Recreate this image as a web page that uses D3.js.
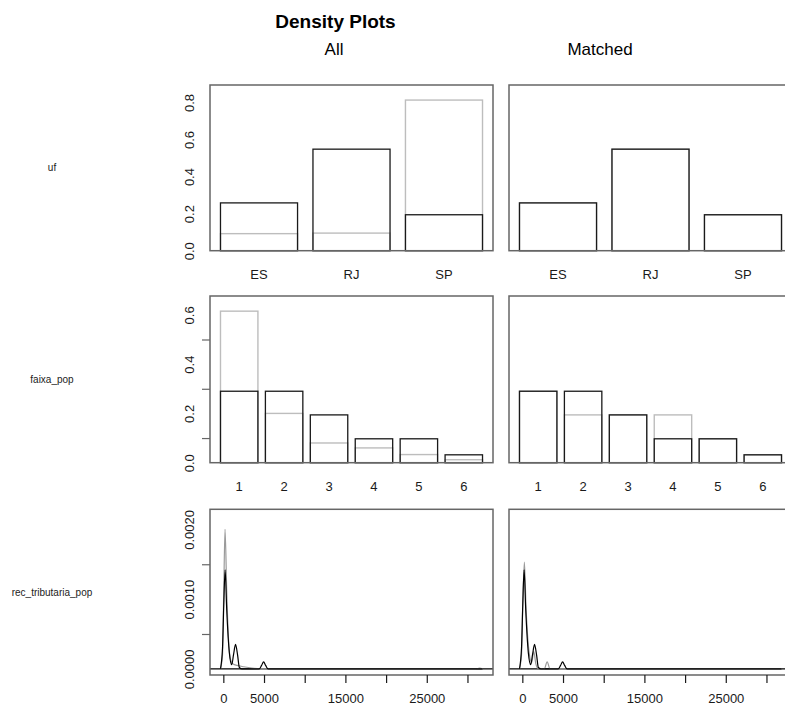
<!DOCTYPE html>
<html><head><meta charset="utf-8">
<script src="https://cdn.jsdelivr.net/npm/d3@7"></script>
<style>body{margin:0;background:#fff}svg text{font-family:"Liberation Sans",Arial,sans-serif;}</style>
</head><body><svg id="c" width="785" height="711"></svg>
<script>
// ---------- data ----------
const mainTitle = "Density Plots";
const columnTitles = ["All", "Matched"];
const rowLabels = ["uf", "faixa_pop", "rec_tributaria_pop"];

const ufCategories = ["ES", "RJ", "SP"];
const ufAllTreated = [0.258, 0.548, 0.194];
const ufAllControl = [0.092, 0.095, 0.813];
const ufMatchedTreated = [0.258, 0.548, 0.194];
const ufMatchedControl = [0.258, 0.548, 0.194];
const ufYTicks = [0, 0.2, 0.4, 0.6, 0.8];
const ufYTickLabels = [0, 0.2, 0.4, 0.6, 0.8];

const faixaCategories = ["1", "2", "3", "4", "5", "6"];
const faixaAllTreated = [0.290, 0.290, 0.194, 0.097, 0.097, 0.032];
const faixaAllControl = [0.615, 0.200, 0.080, 0.060, 0.033, 0.012];
const faixaMatchedTreated = [0.290, 0.290, 0.194, 0.097, 0.097, 0.032];
const faixaMatchedControl = [0.290, 0.194, 0.194, 0.194, 0.097, 0.032];
const faixaYTicks = [0, 0.1, 0.2, 0.3, 0.4, 0.5, 0.6];
const faixaYTickLabels = [0, 0.2, 0.4, 0.6];

// density curves (x in rec_tributaria_pop units, y density)
const recTreatedX = [-350, -100, 50, 220, 420, 740, 1030, 1250, 1500, 1750, 1970, 2300, 4400, 4700, 4950, 5200, 5500, 6000, 31850];
const recTreatedY = [0, 0.0003, 0.0009, 0.00142, 0.00084, 0.00023, 0.00006, 0.0002, 0.00035, 0.0002, 0.00002, 0, 0, 0.00005, 0.0001, 0.00005, 0, 0, 0];
const recAllControlX = [-350, -100, 50, 210, 420, 620, 900, 1200, 1700, 2500, 3500, 4500, 31000, 31500, 31850];
const recAllControlY = [0, 0.0002, 0.0011, 0.002, 0.0011, 0.00046, 0.00013, 0.00007, 0.00005, 0.00003, 0.00001, 0, 0, 0.00001, 0];
const recMatchedControlX = [-350, -100, 50, 250, 450, 800, 1150, 1400, 1650, 1900, 2700, 3050, 3400, 31850];
const recMatchedControlY = [0, 0.0002, 0.0009, 0.00153, 0.0009, 0.00027, 0.00009, 0.00025, 0.00008, 0.00001, 0, 0.0001, 0, 0];
const recXTicks = [0, 5000, 10000, 15000, 20000, 25000, 30000];
const recXTickLabels = [0, 5000, 15000, 25000];
const recYTicks = [0, 0.0005, 0.001, 0.0015, 0.002];
const recYTickLabels = [0, 0.001, 0.002];

// ---------- layout ----------
const svg = d3.select("#c");
const colX = [210, 509];
const panelW = 283;
const rows = [[85, 250.7], [296, 462.7], [509.3, 675]];
const boxColor = "#666";
const darkLine = "#1a1a1a";
const greyLine = "#bdbdbd";
const textColor = "#1a1a1a";

svg.append("text").attr("x", 335.5).attr("y", 28).attr("text-anchor", "middle")
  .style("font-size", "19px").style("font-weight", "bold").attr("fill", "#000").text(mainTitle);
const colTitleX = [334, 600];
columnTitles.forEach((t, i) => svg.append("text").attr("x", colTitleX[i]).attr("y", 55)
  .attr("text-anchor", "middle").style("font-size", "17px").attr("fill", "#000").text(t));
rowLabels.forEach((t, i) => svg.append("text").attr("x", 52).attr("y", (rows[i][0] + rows[i][1]) / 2 + 3.5)
  .attr("text-anchor", "middle").style("font-size", "10px").attr("fill", "#222").text(t));

const isLabelled = (labels, d) => labels.some(l => Math.abs(l - d) < 1e-12);

function yAxis(g, y, ticks, labels, fmt) {
  const ax = g.append("g").call(d3.axisLeft(y).tickValues(ticks).tickSize(8)
    .tickFormat(d => isLabelled(labels, d) ? fmt(d) : ""));
  ax.select(".domain").remove();
  ax.selectAll(".tick line").attr("stroke", boxColor).attr("stroke-width", 1.2)
    .attr("display", d => isLabelled(labels, d) ? "none" : null);
  ax.selectAll(".tick text").attr("x", 0).attr("y", 0).attr("dy", "0.35em")
    .attr("text-anchor", "middle").attr("transform", "translate(-21,0) rotate(-90)")
    .style("font-size", "13px").attr("fill", textColor);
}

function box(g, h) {
  g.append("rect").attr("x", 0).attr("y", 0).attr("width", panelW).attr("height", h)
    .attr("fill", "none").attr("stroke", boxColor).attr("stroke-width", 1.5);
}

function barPanel(col, row, cats, treated, control, yMax, ticks, labels) {
  const [y0, y1] = rows[row];
  const g = svg.append("g").attr("transform", `translate(${colX[col]},${y0})`);
  const h = y1 - y0;
  const n = cats.length;
  const lo = 0.2, hi = n * 1.2, ext = (hi - lo) * 0.04;
  const x = d3.scaleLinear().domain([lo - ext, hi + ext]).range([0, panelW]);
  const y = d3.scaleLinear().domain([0, yMax]).range([h, 0]);
  const drawBars = (vals, color, w) => g.append("g").selectAll("rect").data(vals).join("rect")
    .attr("x", (d, i) => x(0.2 + i * 1.2)).attr("width", (d, i) => x(1.2 + i * 1.2) - x(0.2 + i * 1.2))
    .attr("y", d => y(d)).attr("height", d => h - y(d))
    .attr("fill", "none").attr("stroke", color).attr("stroke-width", w);
  drawBars(control, greyLine, 1.4);
  drawBars(treated, darkLine, 1.3);
  box(g, h);
  g.append("g").selectAll("text").data(cats).join("text")
    .attr("x", (d, i) => x(0.7 + i * 1.2)).attr("y", h + 28).attr("text-anchor", "middle")
    .style("font-size", "13px").attr("fill", textColor).text(d => d);
  if (col === 0) yAxis(g, y, ticks, labels, d3.format(".1f"));
}

const ufMax = d3.max([...ufAllTreated, ...ufAllControl, ...ufMatchedTreated, ...ufMatchedControl]) * 1.1;
barPanel(0, 0, ufCategories, ufAllTreated, ufAllControl, ufMax, ufYTicks, ufYTickLabels);
barPanel(1, 0, ufCategories, ufMatchedTreated, ufMatchedControl, ufMax, ufYTicks, ufYTickLabels);
const faixaMax = d3.max([...faixaAllTreated, ...faixaAllControl, ...faixaMatchedTreated, ...faixaMatchedControl]) * 1.1;
barPanel(0, 1, faixaCategories, faixaAllTreated, faixaAllControl, faixaMax, faixaYTicks, faixaYTickLabels);
barPanel(1, 1, faixaCategories, faixaMatchedTreated, faixaMatchedControl, faixaMax, faixaYTicks, faixaYTickLabels);

// density panels
const allX = [...recTreatedX, ...recAllControlX, ...recMatchedControlX];
const xLo = d3.min(allX), xHi = d3.max(allX), xe = (xHi - xLo) * 0.04;
const dMax = d3.max([...recTreatedY, ...recAllControlY, ...recMatchedControlY]) * 1.1;
function densityPanel(col, control) {
  const [y0, y1] = rows[2];
  const h = y1 - y0;
  const g = svg.append("g").attr("transform", `translate(${colX[col]},${y0})`);
  const x = d3.scaleLinear().domain([xLo - xe, xHi + xe]).range([0, panelW]);
  const y = d3.scaleLinear().domain([-dMax * 0.04, dMax * 1.04]).range([h, 0]);
  const line = d3.line().x(d => x(d[0])).y(d => y(d[1])).curve(d3.curveMonotoneX);
  g.append("line").attr("x1", 0).attr("x2", panelW).attr("y1", y(0)).attr("y2", y(0))
    .attr("stroke", "#000").attr("stroke-width", 1.2);
  g.append("path").datum(control.x.map((v, i) => [v, control.y[i]])).attr("d", line)
    .attr("fill", "none").attr("stroke", "#9a9a9a").attr("stroke-width", 1.2);
  g.append("path").datum(recTreatedX.map((v, i) => [v, recTreatedY[i]])).attr("d", line)
    .attr("fill", "none").attr("stroke", "#000").attr("stroke-width", 1.2);
  box(g, h);
  const ax = g.append("g").attr("transform", `translate(0,${h})`)
    .call(d3.axisBottom(x).tickValues(recXTicks).tickSize(8)
      .tickFormat(d => recXTickLabels.includes(d) ? String(d) : ""));
  ax.select(".domain").remove();
  ax.selectAll(".tick line").attr("stroke", darkLine).attr("stroke-width", 1.2);
  ax.selectAll(".tick text").attr("y", 28).attr("dy", 0).style("font-size", "13px").attr("fill", textColor);
  if (col === 0) yAxis(g, y, recYTicks, recYTickLabels, d3.format(".4f"));
}
densityPanel(0, {x: recAllControlX, y: recAllControlY});
densityPanel(1, {x: recMatchedControlX, y: recMatchedControlY});
</script></body></html>
